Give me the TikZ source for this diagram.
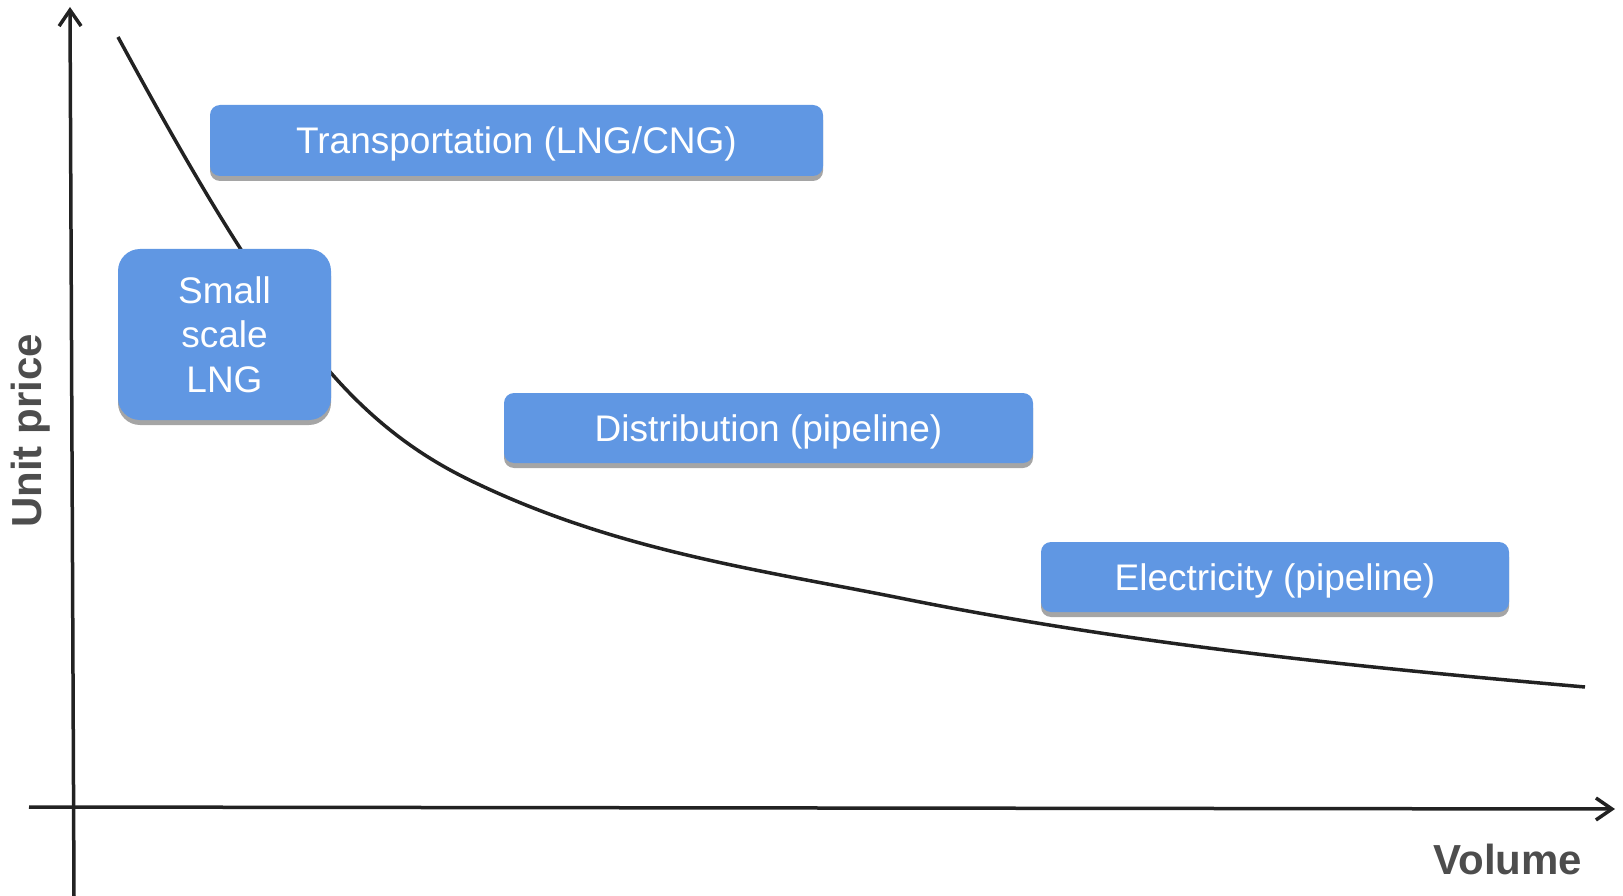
\documentclass[tikz,border=0pt]{standalone}
\usepackage{fontspec}
\setmainfont{Liberation Sans}
\usetikzlibrary{arrows.meta,shadows}
\definecolor{boxblue}{RGB}{96,151,227}
\definecolor{shadowgray}{RGB}{165,165,165}
\definecolor{axisgray}{RGB}{34,34,34}
\definecolor{labelgray}{RGB}{77,77,77}
\begin{document}
\begin{tikzpicture}[x=1pt, y=-1pt,
    axisline/.style={draw=axisgray, line width=3.5pt, -{Straight Barb[length=16pt, width=22pt, line width=3.5pt]}},
    segbox/.style={fill=boxblue, text=white, inner sep=0pt, drop shadow={shadow xshift=0pt, shadow yshift=-5pt, fill=shadowgray, opacity=1},
        font={\fontsize{37}{44.5}\selectfont}, align=center},
    axislabel/.style={text=labelgray, font={\fontsize{42}{48}\selectfont\bfseries}, inner sep=0pt}]
    \useasboundingbox (0,0) rectangle (1623,896);
    % Axes
    \coordinate (ybot) at (74,896);
    \coordinate (ytop) at (70,7);
    \coordinate (xleft) at (29,807);
    \coordinate (xright) at (1615,809);
    \draw[axisline] (ybot) -- (ytop);
    \draw[axisline] (xleft) -- (xright);
    \node[axislabel, rotate=90] (price) at (31,431) {Unit price};
    \node[axislabel] (volume) at (1508,859) {Volume};
    % Price curve
    \draw[axisgray, line width=3.5pt] (118,37) .. controls (189,168) and (260,291) .. (331,373)
        .. controls (381,430) and (430,462) .. (480,485)
        .. controls (620,551) and (760,570) .. (900,598)
        .. controls (1128,644) and (1357,667) .. (1585,687);
    % Segments
    \node[segbox, rounded corners=10pt, minimum width=613pt, minimum height=71pt, text depth=0pt] (transport) at (516.5,140.5) {Transportation (LNG/CNG)};
    \node[segbox, rounded corners=22pt, minimum width=213pt, minimum height=171pt] (smalllng) at (224.5,334.5) {Small\\scale\\LNG};
    \node[segbox, rounded corners=10pt, minimum width=529pt, minimum height=70pt, text depth=0pt] (distrib) at (768.5,428) {Distribution (pipeline)};
    \node[segbox, rounded corners=10pt, minimum width=468pt, minimum height=70pt, text depth=0pt] (electric) at (1275,577) {Electricity (pipeline)};
\end{tikzpicture}
\end{document}
